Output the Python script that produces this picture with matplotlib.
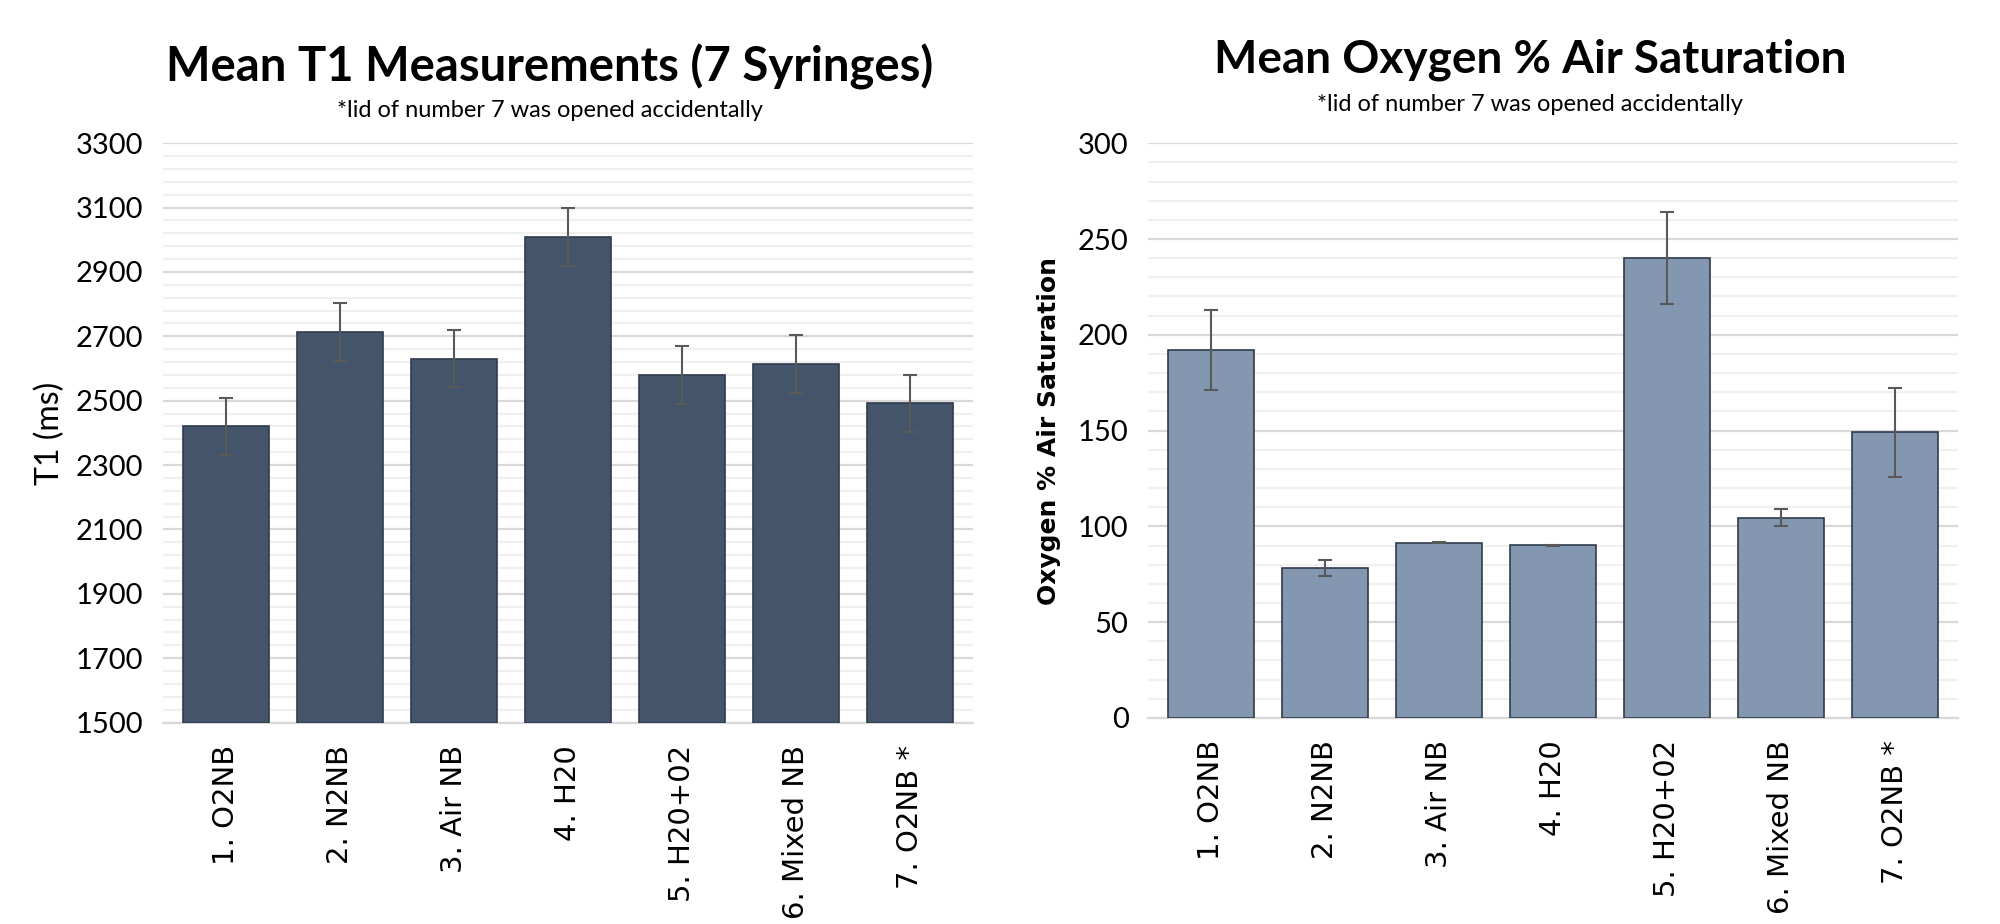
import matplotlib.pyplot as plt
from matplotlib.ticker import MultipleLocator
import numpy as np

# syringe labels
labels = ['1. O2NB', '2. N2NB', '3. Air NB', '4. H20', '5. H20+02', '6. Mixed NB', '7. O2NB *']

# mean T1 (ms) and error
t1_mean = [2420, 2714, 2631, 3008, 2581, 2615, 2492]
t1_err = [89, 90, 89, 90, 90, 90, 89]
t1_ticks = [1500, 1700, 1900, 2100, 2300, 2500, 2700, 2900, 3100, 3300]

# mean oxygen % air saturation and error
o2_mean = [192, 78.5, 91.5, 90.2, 240, 104.5, 149]
o2_err = [21, 4.2, 0.3, 0.3, 24, 4.5, 23.3]
o2_ticks = [0, 50, 100, 150, 200, 250, 300]

title_font = ['Lato', 'DejaVu Sans']
tick_font = ['Lato', 'DejaVu Sans']

fig = plt.figure(figsize=(20, 9.24), dpi=100)
ax1 = fig.add_axes([0.0815, 0.218, 0.405, 0.627])
ax2 = fig.add_axes([0.574, 0.223, 0.405, 0.622])


def style_axis(ax, ticks, minor):
    ax.set_ylim(ticks[0], ticks[-1])
    ax.set_yticks(ticks)
    ax.set_yticks(np.arange(ticks[0], ticks[-1] + 1, minor), minor=True)
    ax.grid(axis='y', which='major', color='#d9d9d9', linewidth=1.6, zorder=0)
    ax.grid(axis='y', which='minor', color='#f0f0f0', linewidth=1.6, zorder=0)
    for s in ['top', 'right', 'left']:
        ax.spines[s].set_visible(False)
    ax.spines['bottom'].set_color('#d9d9d9')
    ax.spines['bottom'].set_linewidth(1.6)
    ax.tick_params(axis='both', which='both', length=0)
    ax.tick_params(axis='y', labelsize=21, pad=14)
    for t in ax.get_yticklabels():
        t.set_family(tick_font)
    ax.set_xticks(np.arange(len(labels)))
    ax.set_xticklabels(labels, rotation=90, fontsize=21, family='DejaVu Sans')
    ax.tick_params(axis='x', pad=16)
    ax.set_xlim(-0.55, len(labels) - 0.45)


x = np.arange(len(labels))
ax1.bar(x, np.array(t1_mean) - t1_ticks[0], bottom=t1_ticks[0], width=0.75, color='#44546a',
        edgecolor='#2f3b4c', linewidth=1.2, zorder=3)
ax1.errorbar(x, t1_mean, yerr=t1_err, fmt='none', ecolor='#595959',
             elinewidth=1.5, capsize=5, capthick=1.5, zorder=4)
style_axis(ax1, t1_ticks, 40)
ax1.set_ylabel('T1 (ms)', fontsize=23, family=tick_font, labelpad=8)

ax2.bar(x, o2_mean, width=0.75, color='#8497b0',
        edgecolor='#2f3b4c', linewidth=1.2, zorder=3)
ax2.errorbar(x, o2_mean, yerr=o2_err, fmt='none', ecolor='#595959',
             elinewidth=1.5, capsize=5, capthick=1.5, zorder=4)
style_axis(ax2, o2_ticks, 10)
ax2.set_ylabel('Oxygen % Air Saturation', fontsize=18, fontweight='bold',
               family='DejaVu Sans', labelpad=12)

fig.text(0.275, 0.928, 'Mean T1 Measurements (7 Syringes)', ha='center', va='center',
         fontsize=34, fontweight='bold', family=title_font)
fig.text(0.275, 0.880, '*lid of number 7 was opened accidentally', ha='center', va='center',
         fontsize=17, family=title_font)
fig.text(0.765, 0.935, 'Mean Oxygen % Air Saturation', ha='center', va='center',
         fontsize=33, fontweight='bold', family=title_font)
fig.text(0.765, 0.887, '*lid of number 7 was opened accidentally', ha='center', va='center',
         fontsize=17, family=title_font)

fig.savefig('out.png', dpi=100, facecolor='white')
